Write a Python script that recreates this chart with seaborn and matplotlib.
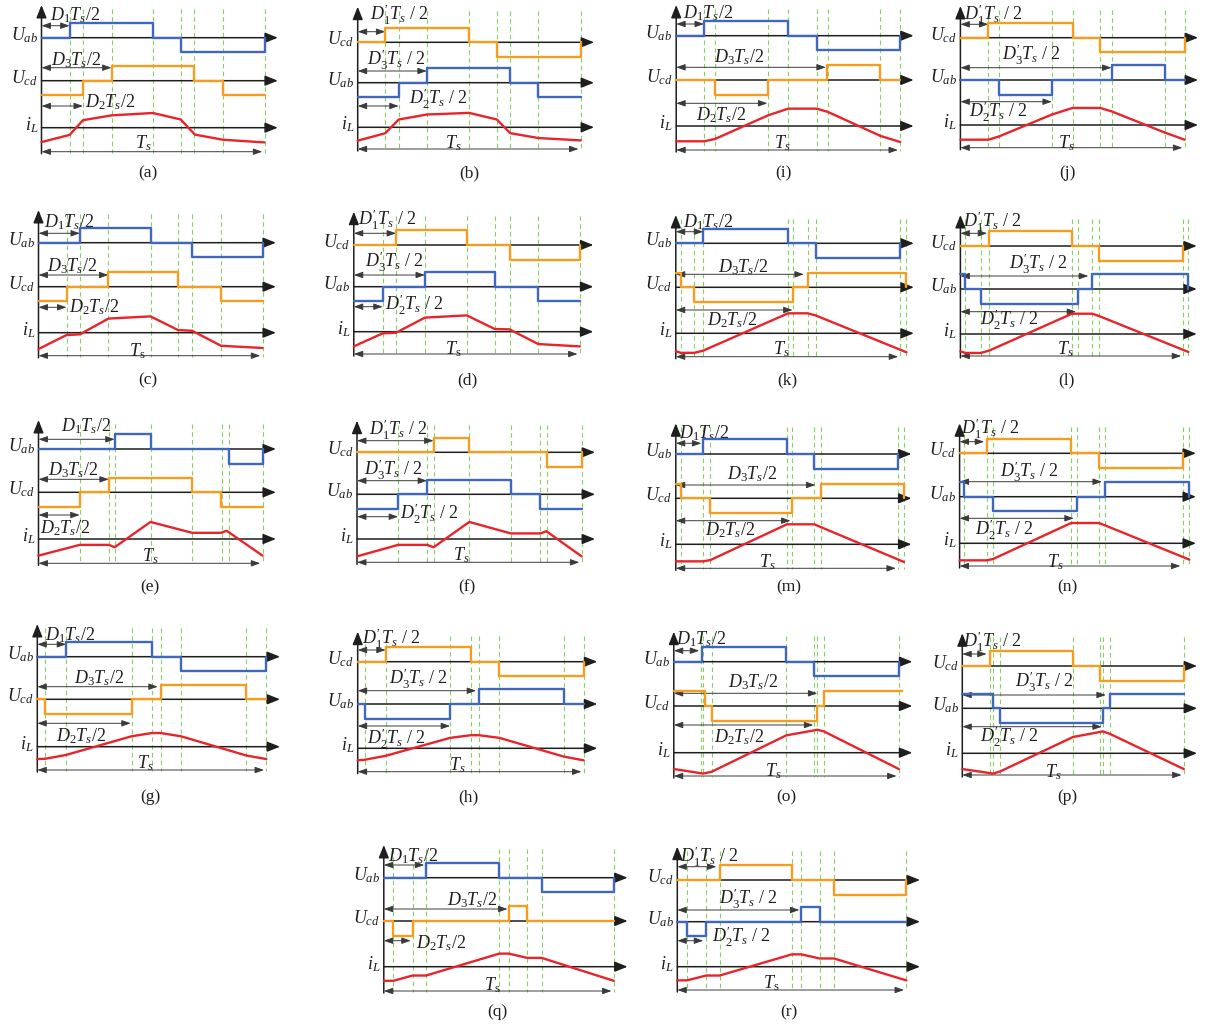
import matplotlib
matplotlib.use("Agg")
import matplotlib.pyplot as plt
import seaborn as sns

sns.set_theme(style="white")
plt.rcParams["font.family"] = ["Liberation Serif", "DejaVu Serif"]
plt.rcParams["mathtext.fontset"] = "custom"
plt.rcParams["mathtext.rm"] = "Liberation Serif"
plt.rcParams["mathtext.it"] = "Liberation Serif:italic"
plt.rcParams["mathtext.bf"] = "Liberation Serif:bold"

PANELS = list("abcdefghijklmnopqr")
UAB_ON_TOP = set("acegikmoq")
UPRIGHT_TS = set("cdqr")

# ---- waveform data: times in units of Ts, levels in units of the bridge voltage ----
UAB_T = {
    "a": [0, .126, .5, .626, 1], "b": [0, .184, .31, .684, .81, 1],
    "c": [0, .185, .5, .686, 1], "d": [0, .128, .315, .624, .816, 1],
    "e": [0, .34, .5, .849, 1], "f": [0, .183, .312, .685, .817, 1],
    "g": [0, .126, .5, .627, 1], "h": [0, .031, .409, .537, .911, 1],
    "i": [0, .124, .5, .627, 1], "j": [0, .172, .408, .674, .911, 1],
    "k": [0, .122, .5, .622, 1], "l": [0, .022, .091, .528, .591, 1.022],
    "m": [0, .123, .5, .623, 1], "n": [0, .021, .15, .526, .652, 1.03],
    "o": [0, .125, .5, .624, 1], "p": [0, .139, .17, .635, .665, 1.0],
    "q": [0, .184, .5, .686, 1], "r": [0, .042, .126, .541, .622, 1],
}
UAB_V = {
    "a": [0, 1, 0, -1, 0], "b": [-1, 0, 1, 0, -1, -1],
    "c": [0, 1, 0, -1, 0], "d": [-1, 0, 1, 0, -1, -1],
    "e": [0, 1, 0, -1, 0], "f": [-1, 0, 1, 0, -1, -1],
    "g": [0, 1, 0, -1, 0], "h": [0, -1, 0, 1, 0, 0],
    "i": [0, 1, 0, -1, 0], "j": [0, -1, 0, 1, 0, 0],
    "k": [0, 1, 0, -1, 0], "l": [1, 0, -1, 0, 1, 0],
    "m": [0, 1, 0, -1, 0], "n": [1, 0, -1, 0, 1, 0],
    "o": [0, 1, 0, -1, 0], "p": [1, 0, -1, 0, 1, 1],
    "q": [0, 1, 0, -1, 0], "r": [0, -1, 0, 1, 0, 0],
}
UCD_T = {
    "a": [0, .186, .314, .686, .814, 1], "b": [0, .124, .5, .624, 1],
    "c": [0, .125, .312, .623, .815, 1], "d": [0, .187, .5, .689, 1],
    "e": [0, .184, .314, .686, .815, 1], "f": [0, .341, .5, .846, 1],
    "g": [0, .035, .412, .538, .913, 1], "h": [0, .124, .5, .627, 1],
    "i": [0, .172, .411, .672, .911, 1], "j": [0, .125, .5, .623, 1],
    "k": [0, .022, .082, .524, .587, 1.027], "l": [0, .129, .5, .622, 1],
    "m": [0, .022, .156, .524, .654, 1.026], "n": [0, .121, .5, .624, 1],
    "o": [0, .138, .168, .638, .667, 1.014], "p": [0, .123, .5, .622, 1],
    "q": [0, .042, .125, .543, .624, 1], "r": [0, .185, .5, .684, 1],
}
UCD_V = {
    "a": [-1, 0, 1, 0, -1, -1], "b": [0, 1, 0, -1, 0],
    "c": [-1, 0, 1, 0, -1, -1], "d": [0, 1, 0, -1, 0],
    "e": [-1, 0, 1, 0, -1, -1], "f": [0, 1, 0, -1, 0],
    "g": [0, -1, 0, 1, 0, 0], "h": [0, 1, 0, -1, 0],
    "i": [0, -1, 0, 1, 0, 0], "j": [0, 1, 0, -1, 0],
    "k": [1, 0, -1, 0, 1, 0], "l": [0, 1, 0, -1, 0],
    "m": [1, 0, -1, 0, 1, 0], "n": [0, 1, 0, -1, 0],
    "o": [1, 0, -1, 0, 1, 1], "p": [0, 1, 0, -1, 0],
    "q": [0, -1, 0, 1, 0, 0], "r": [0, 1, 0, -1, 0],
}
IL_T = {
    "a": [0, .126, .186, .314, .5, .624, .688, .814, 1],
    "b": [0, .124, .184, .31, .5, .624, .684, .81, 1],
    "c": [0, .125, .185, .312, .5, .623, .686, .815, 1],
    "d": [0, .128, .187, .315, .5, .624, .689, .816, 1],
    "e": [0, .184, .314, .34, .5, .686, .815, .84, 1],
    "f": [0, .183, .312, .341, .5, .685, .817, .843, 1],
    "g": [0, .035, .126, .412, .5, .538, .627, .913, 1],
    "h": [0, .031, .124, .409, .5, .537, .627, .911, 1],
    "i": [0, .124, .172, .411, .5, .627, .677, .911, 1],
    "j": [0, .125, .172, .408, .5, .623, .674, .911, 1],
    "k": [0, .022, .082, .122, .5, .587, .622, 1.027],
    "l": [0, .022, .091, .129, .5, .591, .622, 1.022],
    "m": [0, .123, .156, .5, .623, .654, 1.026],
    "n": [0, .121, .15, .5, .624, .652, 1.03],
    "o": [0, .13, .168, .5, .638, .667, 1.0],
    "p": [0, .139, .17, .5, .635, .665, 1.0],
    "q": [0, .042, .125, .184, .502, .543, .624, .686, 1],
    "r": [0, .042, .126, .185, .5, .541, .622, .684, 1],
}
IL_V = {
    "a": [-.98, -.49, .51, .84, 1.0, .56, -.47, -.82, -1.0],
    "b": [-.91, -.4, .53, .87, .98, .53, -.4, -.73, -.89],
    "c": [-1.11, -.16, -.11, .96, 1.11, .18, .13, -.89, -1.04],
    "d": [-1.0, -.11, -.07, .96, 1.11, .18, .16, -.84, -1.0],
    "e": [-1.13, -.4, -.4, -.56, 1.16, .42, .42, .56, -1.13],
    "f": [-1.18, -.4, -.4, -.56, 1.16, .38, .38, .53, -1.18],
    "g": [-.84, -.82, -.56, .71, .93, .93, .71, -.6, -.84],
    "h": [-.82, -.78, -.51, .71, .89, .89, .71, -.56, -.82],
    "i": [-1.04, -1.04, -.89, .73, 1.18, 1.18, .96, -.67, -1.09],
    "j": [-1.0, -1.0, -.78, .71, 1.16, 1.16, .93, -.51, -1.0],
    "k": [-1.22, -1.33, -1.33, -1.18, 1.36, 1.36, 1.22, -1.29],
    "l": [-1.18, -1.29, -1.29, -1.13, 1.38, 1.38, 1.22, -1.22],
    "m": [-1.16, -1.16, -1.07, 1.36, 1.36, 1.16, -1.2],
    "n": [-1.16, -1.16, -1.07, 1.38, 1.38, 1.22, -1.11],
    "o": [-1.11, -1.42, -1.3, 1.18, 1.56, 1.45, -1.11],
    "p": [-1.07, -1.38, -1.24, 1.11, 1.49, 1.33, -1.07],
    "q": [-.96, -.96, -.6, -.6, .89, .89, .6, .6, -.96],
    "r": [-.93, -.93, -.6, -.6, .84, .84, .56, .56, -.93],
}
# switching instants marked with dashed guides
GUIDES = {
    "a": [.126, .186, .314, .5, .626, .686, .814, 1],
    "b": [.124, .184, .31, .5, .624, .684, .81, 1],
    "c": [.125, .185, .312, .5, .623, .686, .815, 1],
    "d": [.128, .187, .315, .5, .624, .689, .816, 1],
    "e": [.184, .314, .34, .5, .686, .82, .849, 1],
    "f": [.183, .312, .341, .5, .685, .817, .846, 1],
    "g": [.035, .126, .412, .5, .538, .627, .913, 1],
    "h": [.031, .124, .409, .5, .537, .627, .911, 1],
    "i": [.124, .172, .411, .5, .627, .677, .911, 1],
    "j": [.125, .172, .408, .5, .623, .674, .911, 1],
    "k": [.022, .082, .122, .5, .524, .587, .622, 1.0, 1.027],
    "l": [.022, .091, .129, .5, .528, .591, .622, 1.0, 1.022],
    "m": [.022, .123, .156, .5, .524, .623, .654, 1.0, 1.026],
    "n": [.021, .121, .15, .5, .526, .624, .652, 1.0, 1.03],
    "o": [.12, .13, .168, .5, .624, .638, .667, 1.0],
    "p": [.123, .139, .17, .5, .622, .635, .665, 1.0],
    "q": [.042, .125, .184, .5, .543, .624, .686, 1],
    "r": [.042, .126, .185, .5, .541, .622, .684, 1],
}
# duty-ratio spans (D1, D3, D2) in units of Ts
DUTY_END = {
    "a": (.126, .314, .186), "b": (.124, .31, .184), "c": (.185, .312, .125),
    "d": (.187, .315, .128), "e": (.34, .314, .184), "f": (.341, .312, .183),
    "g": (.126, .526, .408), "h": (.124, .524, .409), "i": (.124, .668, .407),
    "j": (.125, .674, .408), "k": (.122, .57, .52), "l": (.12, .574, .519),
    "m": (.115, .628, .516), "n": (.11, .638, .512), "o": (.113, .638, .62),
    "p": (.11, .648, .63), "q": (.176, .538, .117), "r": (.171, .533, .113),
}

# ---- layout (pixels): y-axis x, top, three baselines, Ts arrow, Ts width ----
LAYOUT = {
    "a": (41.5, 5, 37.7, 80.7, 127.7, 151.7, 223),
    "b": (357.7, 6.7, 42.3, 82.7, 127.3, 149, 223),
    "c": (38.5, 210, 242.7, 286.7, 332.7, 355.7, 224),
    "d": (353.8, 211.7, 245, 286.7, 331.7, 354, 226),
    "e": (38.5, 420, 449, 492.3, 539, 563.3, 224),
    "f": (357, 420.7, 452.3, 494.3, 539, 562.3, 224.6),
    "g": (37.3, 624, 656.7, 699.3, 746.7, 770, 229),
    "h": (357.7, 631.7, 661.7, 704, 748.3, 771.7, 226),
    "i": (676.2, 5, 35.7, 80, 126, 150, 224),
    "j": (960.4, 6, 37.7, 80, 125, 147.7, 224.2),
    "k": (675.8, 215, 243.3, 287.3, 333.3, 356.7, 224.6),
    "l": (960.4, 215, 246, 289, 334, 356, 223),
    "m": (675.8, 423.3, 454, 498.3, 544.3, 568.3, 222.3),
    "n": (959.6, 423.3, 453.3, 496.7, 543.3, 566, 223),
    "o": (673.8, 631.7, 661.7, 706, 752.7, 776, 225),
    "p": (962.3, 633.3, 666, 708.3, 753.3, 775, 221.5),
    "q": (383.8, 845, 877.7, 921, 966.7, 991, 230),
    "r": (677.3, 846.7, 880, 921.7, 966.7, 990, 229),
}
# y of the D1, D3, D2 span arrows
ARROW_Y = {
    "a": (25.7, 67.7, 106), "b": (31.7, 71, 106), "c": (233.3, 275, 307.3),
    "d": (233.3, 275, 306.7), "e": (439.3, 479.3, 515), "f": (440.7, 480.7, 516.7),
    "g": (644.3, 686.7, 723.3), "h": (650, 690.7, 726), "i": (24, 67.3, 103.3),
    "j": (24.3, 67.7, 101.7), "k": (231.7, 274.3, 310), "l": (233.3, 276, 311.7),
    "m": (443.3, 485, 520.7), "n": (441.7, 481.7, 518.3), "o": (650.7, 693.3, 725),
    "p": (654, 695, 726.7), "q": (865, 909, 940.7), "r": (866.7, 910, 940.7),
}
# label anchors (left edge in Ts units, centre y in px) for D1, D3, D2 and Ts
LABEL_POS = {
    "a": ((.038, 15), (.043, 60), (.195, 101.7), (.455, 142.7)),
    "b": ((.055, 15), (.042, 60), (.228, 98.3), (.43, 142.7)),
    "c": ((.025, 221.7), (.04, 266), (.135, 307.3), (.44, 350.7)),
    "d": ((.017, 220), (.05, 261.7), (.136, 305), (.44, 349.3)),
    "e": ((.1, 426), (.042, 470), (.008, 528.3), (.5, 556)),
    "f": ((.054, 430), (.03, 469.3), (.19, 513.3), (.465, 555)),
    "g": ((.035, 635), (.16, 678.3), (.08, 736), (.47, 763.3)),
    "h": ((.017, 638.3), (.14, 678.3), (.04, 738.3), (.44, 765)),
    "i": ((.029, 13.3), (.167, 56.7), (.088, 115), (.475, 143.3)),
    "j": ((.014, 15), (.186, 55), (.038, 111.7), (.47, 142.7)),
    "k": ((.03, 221.7), (.19, 266.7), (.14, 320), (.47, 349.3)),
    "l": ((.013, 221.7), (.22, 264), (.09, 320), (.47, 349.3)),
    "m": ((.013, 433.3), (.23, 474), (.13, 530), (.41, 561.7)),
    "n": ((.008, 428.3), (.18, 471.7), (.07, 530), (.43, 561.7)),
    "o": ((.01, 639.3), (.24, 681.7), (.18, 736.7), (.44, 770.7)),
    "p": ((.005, 641.7), (.24, 681.7), (.08, 736.7), (.41, 771.7)),
    "q": ((.02, 856), (.275, 900), (.14, 942.7), (.47, 985)),
    "r": ((.01, 856.7), (.18, 898.3), (.15, 936.7), (.41, 983.3)),
}
CAPTION_XY = {
    "a": (148, 173), "b": (469, 173), "i": (783, 173), "j": (1067, 173),
    "c": (148, 380), "d": (467, 380), "k": (787, 380), "l": (1066, 380),
    "e": (150, 587), "f": (467, 587), "m": (789, 587), "n": (1067, 587),
    "g": (150, 797), "h": (468, 797), "o": (786, 797), "p": (1067, 797),
    "q": (497, 1012), "r": (789, 1012),
}

BLUE = "#3f67bd"
ORANGE = "#f59d1e"
RED = "#e8242a"
GREEN = "#86cf63"
INK = "#1e1e1e"
SPAN = "#3a3a3a"
AMP = 14.7
FS = 13

FW, FH = 1207, 1027
fig = plt.figure(figsize=(FW / 100, FH / 100), dpi=100)
fig.patch.set_facecolor("white")


def px_axes(x0, x1, y_top, y_bot):
    ax = fig.add_axes([x0 / FW, 1 - y_bot / FH, (x1 - x0) / FW, (y_bot - y_top) / FH])
    ax.set_axis_off()
    return ax


page = px_axes(0, FW, 0, FH)
page.set_xlim(0, FW)
page.set_ylim(FH, 0)

axis_arrow = dict(arrowstyle="-|>,head_length=0.55,head_width=0.22", color=INK,
                  lw=1.1, mutation_scale=14, shrinkA=0, shrinkB=0)
span_arrow = dict(arrowstyle="<|-|>,head_length=0.45,head_width=0.16", color=SPAN,
                  lw=0.7, mutation_scale=12, shrinkA=0, shrinkB=0)

for p in PANELS:
    xa, ytop, b1, b2, b3, yts, W = LAYOUT[p]
    fr = px_axes(xa, xa + W, ytop, yts)
    fr.set_xlim(0, 1)
    fr.set_ylim(yts, ytop)

    fr.vlines(GUIDES[p], ytop + 4, yts + 1, colors=GREEN, linestyles=(0, (4, 3)),
              lw=0.8, clip_on=False, zorder=1)

    for yb in (b1, b2, b3):
        fr.annotate("", xy=(1.06, yb), xytext=(0, yb), arrowprops=axis_arrow,
                    annotation_clip=False)
    fr.annotate("", xy=(0, ytop), xytext=(0, yts + 2), arrowprops=axis_arrow,
                annotation_clip=False)

    uab_top = p in UAB_ON_TOP
    names = (r"$U_{ab}$", r"$U_{cd}$") if uab_top else (r"$U_{cd}$", r"$U_{ab}$")
    off = -3.5 / W
    fr.text(off, b1 - 3, names[0], ha="right", va="center", fontsize=FS, color=INK)
    fr.text(off, b2 - 3, names[1], ha="right", va="center", fontsize=FS, color=INK)
    fr.text(off, b3 - 3, r"$i_L$", ha="right", va="center", fontsize=FS, color=INK)

    if uab_top:
        dl = [r"$D_1T_s/2$", r"$D_3T_s/2$", r"$D_2T_s/2$"]
    else:
        dl = [r"$D_1^{\prime}T_s\ /\ 2$", r"$D_3^{\prime}T_s\ /\ 2$", r"$D_2^{\prime}T_s\ /\ 2$"]
    for end, ya, lab, (lx, ly) in zip(DUTY_END[p], ARROW_Y[p], dl, LABEL_POS[p][:3]):
        fr.annotate("", xy=(end, ya), xytext=(0, ya), arrowprops=span_arrow,
                    annotation_clip=False)
        fr.text(lx, ly, lab, ha="left", va="center", fontsize=FS, color=INK)

    fr.annotate("", xy=(0.99, yts), xytext=(0, yts), arrowprops=span_arrow,
                annotation_clip=False)
    ts_lab = r"$T_\mathrm{s}$" if p in UPRIGHT_TS else r"$T_s$"
    tx, ty = LABEL_POS[p][3]
    fr.text(tx, ty, ts_lab, ha="center", va="center", fontsize=FS, color=INK)

    if uab_top:
        traces = [(UAB_T[p], UAB_V[p], BLUE, b1), (UCD_T[p], UCD_V[p], ORANGE, b2)]
    else:
        traces = [(UCD_T[p], UCD_V[p], ORANGE, b1), (UAB_T[p], UAB_V[p], BLUE, b2)]
    for tt, vv, col, base in traces:
        tax = px_axes(xa, xa + W, base - AMP, base + AMP)
        tax.set_xlim(0, 1)
        tax.set_ylim(-1, 1)
        sns.lineplot(x=tt, y=vv, ax=tax, color=col, lw=1.7, drawstyle="steps-post",
                     estimator=None, sort=False, clip_on=False)
        tax.set_axis_off()

    iax = px_axes(xa, xa + W, b3 - AMP, b3 + AMP)
    iax.set_xlim(0, 1)
    iax.set_ylim(-1, 1)
    sns.lineplot(x=IL_T[p], y=IL_V[p], ax=iax, color=RED, lw=1.7,
                 estimator=None, sort=False, clip_on=False)
    iax.set_axis_off()

    cx, cy = CAPTION_XY[p]
    page.text(cx, cy, f"({p})", ha="center", va="center", fontsize=12.5, color=INK)

fig.savefig("out.png", dpi=100, facecolor="white")
